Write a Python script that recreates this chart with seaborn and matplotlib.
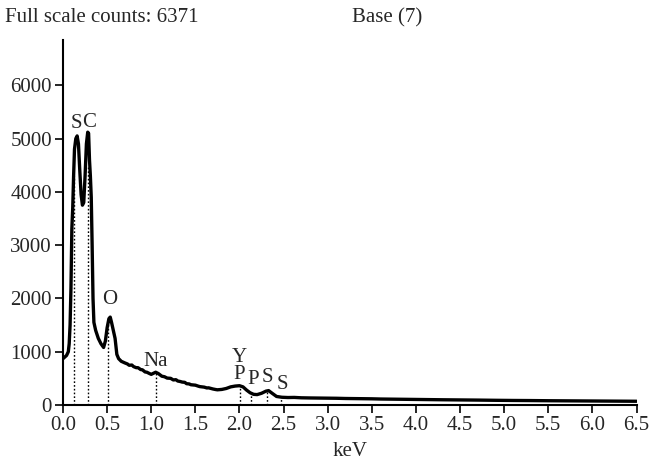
import numpy as np
import pandas as pd
import matplotlib
matplotlib.use("Agg")
import matplotlib.pyplot as plt
import seaborn as sns

# spectrum (keV, counts)
energy = [0.00, 0.02, 0.04, 0.06, 0.07, 0.08, 0.09, 0.10, 0.11, 0.12, 0.13, 0.145,
          0.16, 0.175, 0.19, 0.205, 0.22, 0.235, 0.25, 0.265, 0.28, 0.29, 0.30, 0.31,
          0.32, 0.33, 0.34, 0.35, 0.37, 0.40, 0.43, 0.46, 0.48, 0.50, 0.52, 0.535,
          0.55, 0.57, 0.59, 0.61, 0.63, 0.66, 0.70, 0.73, 0.75, 0.78, 0.80, 0.83,
          0.85, 0.88, 0.90, 0.93, 0.95, 0.98, 1.00, 1.05, 1.08, 1.12, 1.15, 1.18,
          1.22, 1.25, 1.28, 1.30, 1.33, 1.35, 1.38, 1.40, 1.43, 1.45, 1.50, 1.53,
          1.55, 1.60, 1.63, 1.65, 1.70, 1.73, 1.75, 1.80, 1.85, 1.90, 1.95, 2.00,
          2.04, 2.08, 2.12, 2.16, 2.20, 2.25, 2.30, 2.33, 2.37, 2.42, 2.48, 2.55,
          2.62, 2.70, 2.80, 2.90, 3.00, 3.10, 3.20, 3.30, 3.40, 3.50, 3.60, 3.70,
          3.90, 4.10, 4.30, 4.50, 4.70, 4.90, 5.10, 5.30, 5.50, 5.70, 5.90, 6.10,
          6.30, 6.50]
counts = [870, 900, 930, 1000, 1150, 1500, 2200, 3300, 3700, 4300, 4800, 5000,
          5050, 4900, 4400, 3950, 3750, 3800, 4300, 4900, 5120, 5100, 4600, 4300,
          3900, 3000, 2000, 1550, 1400, 1250, 1150, 1080, 1200, 1450, 1620, 1650,
          1550, 1400, 1250, 950, 870, 820, 790, 770, 745, 750, 720, 700,
          700, 665, 660, 620, 615, 590, 575, 615, 590, 540, 530, 505,
          500, 470, 475, 450, 440, 430, 425, 400, 395, 380, 372, 355,
          345, 335, 320, 322, 300, 290, 285, 292, 310, 340, 355, 362,
          340, 280, 230, 200, 195, 220, 260, 270, 220, 160, 145, 140,
          142, 135, 132, 130, 128, 126, 122, 120, 118, 116, 112, 110,
          106, 102, 98, 95, 92, 88, 85, 83, 80, 78, 76, 74,
          72, 70]

# element markers: label, line position (keV), line top, label position
labels = ["S", "C", "O", "Na", "Y", "P", "P", "S", "S"]
line_kev = [0.128, 0.28, 0.514, 1.055, None, 2.008, 2.13, 2.31, 2.47]
line_top = [4300, 4500, 1550, 600, None, 360, 230, 260, 150]
label_x = [0.15, 0.295, 0.53, 1.05, 2.0, 2.0, 2.15, 2.32, 2.49]
label_y = [5290, 5310, 1980, 820, 900, 570, 470, 510, 380]

sns.set_style("ticks")
plt.rcParams['font.family'] = ['Liberation Serif', 'DejaVu Serif']

df = pd.DataFrame({"keV": energy, "counts": counts})

fig = plt.figure(figsize=(6.51, 4.62), dpi=100)
ax = fig.add_axes([0.0968, 0.1234, 0.881, 0.79])

for x, top in zip(line_kev, line_top):
    if x is not None:
        ax.vlines(x, 0, top, colors="black", linestyles=(0, (1.2, 1.5)), linewidth=1.0)

sns.lineplot(data=df, x="keV", y="counts", color="black", linewidth=2.4, ax=ax)

for lab, x, y in zip(labels, label_x, label_y):
    ax.text(x, y, lab, ha="center", va="center", fontsize=15)

ax.set_xlim(0, 6.5)
ax.set_ylim(0, 6850)
ax.set_xticks(np.arange(0, 6.51, 0.5))
ax.set_xticklabels([f"{v:.1f}" for v in np.arange(0, 6.51, 0.5)])
ax.set_yticks([0, 1000, 2000, 3000, 4000, 5000, 6000])
ax.set_xlabel("keV", fontsize=15, labelpad=5)
ax.set_ylabel("")
ax.tick_params(labelsize=15, width=1.2, length=6, color="black", pad=2)
for s in ["top", "right"]:
    ax.spines[s].set_visible(False)
for s in ["left", "bottom"]:
    ax.spines[s].set_linewidth(1.5)
    ax.spines[s].set_color("black")

fig.text(5 / 651, 1 - 18 / 462, "Full scale counts: 6371", fontsize=15, va="center")
fig.text(352 / 651, 1 - 18 / 462, "Base (7)", fontsize=15, va="center")

fig.savefig("out.png", dpi=100)
